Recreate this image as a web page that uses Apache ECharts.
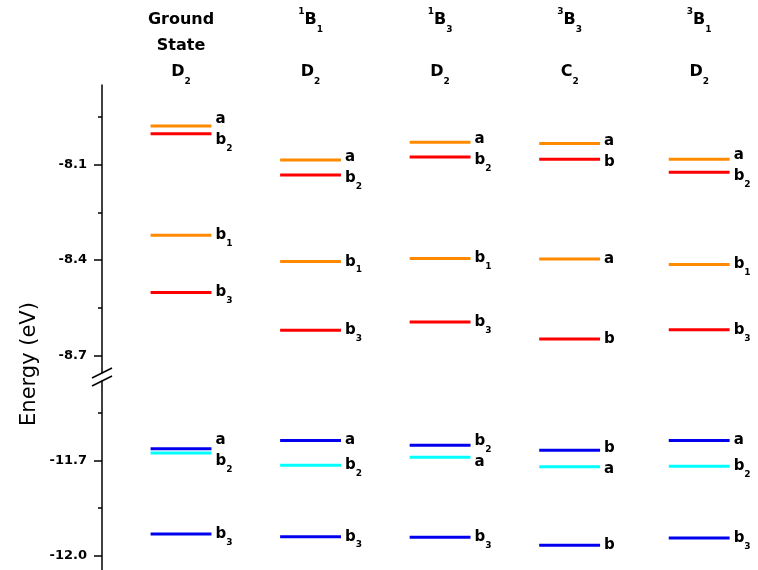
<!DOCTYPE html>
<html>
<head>
<meta charset="utf-8">
<script src="https://cdn.jsdelivr.net/npm/echarts@6/dist/echarts.min.js"></script>
<style>
  html, body { margin: 0; padding: 0; background: #fff; }
  #chart { width: 758px; height: 570px; }
</style>
</head>
<body>
<div id="chart"></div>
<script>
// electronic states (one column each)
const stateColumns = [1, 2, 3, 4, 5];
const stateHeaders = [
  'Ground\nState\n{big|D}{sub|2}',
  '{sup|1}{big|B}{sub|1}\n\n{big|D}{sub|2}',
  '{sup|1}{big|B}{sub|3}\n\n{big|D}{sub|2}',
  '{sup|3}{big|B}{sub|3}\n\n{big|C}{sub|2}',
  '{sup|3}{big|B}{sub|1}\n\n{big|D}{sub|2}'
];

// orbital energies in eV, same orbital order in every column
// (0..3 upper panel, 4..6 lower panel)
const groundEnergy = [-7.979, -8.003, -8.322, -8.502, -11.663, -11.677, -11.932];
const b1SingletEnergy = [-8.086, -8.133, -8.405, -8.621, -11.637, -11.715, -11.940];
const b3SingletEnergy = [-8.030, -8.076, -8.395, -8.595, -11.652, -11.690, -11.942];
const b3TripletEnergy = [-8.034, -8.083, -8.397, -8.648, -11.668, -11.720, -11.967];
const b1TripletEnergy = [-8.083, -8.124, -8.414, -8.619, -11.637, -11.718, -11.944];

// symmetry labels of each orbital
const groundSym = ['a', 'b2', 'b1', 'b3', 'a', 'b2', 'b3'];
const b1SingletSym = ['a', 'b2', 'b1', 'b3', 'a', 'b2', 'b3'];
const b3SingletSym = ['a', 'b2', 'b1', 'b3', 'b2', 'a', 'b3'];
const b3TripletSym = ['a', 'b', 'a', 'b', 'b', 'a', 'b'];
const b1TripletSym = ['a', 'b2', 'b1', 'b3', 'a', 'b2', 'b3'];

const upperTicks = [-8.1, -8.4, -8.7];
const upperMinorTicks = [-7.95, -8.25, -8.55];
const lowerTicks = [-11.7, -12.0];
const lowerMinorTicks = [-11.55, -11.85];

const upperOrbitals = [0, 1, 2, 3];
const lowerOrbitals = [4, 5, 6];

const energies = [groundEnergy, b1SingletEnergy, b3SingletEnergy, b3TripletEnergy, b1TripletEnergy];
const symLabels = [groundSym, b1SingletSym, b3SingletSym, b3TripletSym, b1TripletSym];

// look
const orbitalColors = ['#FF8A00', '#FF0000', '#FF8A00', '#FF0000', '#0000EE', '#00FFFF', '#0000EE'];
const FONT = '"DejaVu Sans", sans-serif';
const GRID_LEFT = 102;
const UPPER_TOP = 85, UPPER_BOTTOM = 373;
const LOWER_TOP = 381;
const HALF = 0.235;

function buildData(orbs) {
  const out = [];
  stateColumns.forEach((col, i) => {
    orbs.forEach(o => out.push([col, energies[i][o], o]));
  });
  return out;
}

function renderLevel(params, api) {
  const col = api.value(0), e = api.value(1), orb = api.value(2);
  const p0 = api.coord([col - HALF, e]);
  const p1 = api.coord([col + HALF, e]);
  // push labels of close levels apart
  let dy = 0;
  energies[col - 1].forEach((e2, j) => {
    if (j === orb) return;
    const y2 = api.coord([col, e2])[1];
    const gap = y2 - p0[1];
    if (Math.abs(gap) < 21) {
      const mid = (p0[1] + y2) / 2;
      dy = mid + (gap > 0 ? -10.5 : 10.5) - p0[1];
    }
  });
  const txt = symLabels[col - 1][orb].replace(/(\d)/, '{sub|$1}');
  return {
    type: 'group',
    children: [
      {
        type: 'line',
        shape: { x1: p0[0], y1: p0[1], x2: p1[0], y2: p1[1] },
        style: { stroke: orbitalColors[orb], lineWidth: 3 }
      },
      {
        type: 'text',
        x: p1[0] + 4,
        y: p0[1] + dy,
        style: {
          text: txt,
          fontSize: 15, fontWeight: 'bold', fontFamily: FONT, fill: '#000',
          align: 'left', verticalAlign: 'middle',
          rich: {
            sub: { fontSize: 9, fontWeight: 'bold', fontFamily: FONT, fill: '#000', padding: [17, 0, 0, 0] }
          }
        }
      }
    ]
  };
}

const chart = echarts.init(document.getElementById('chart'));

const yCommon = {
  type: 'value',
  position: 'left',
  splitLine: { show: false },
  axisLine: { show: true, lineStyle: { color: '#000', width: 1.5 } },
  axisTick: { show: true, inside: false, length: 8, lineStyle: { color: '#000', width: 1.5 } },
  axisLabel: {
    color: '#000', fontSize: 13, fontWeight: 'bold', fontFamily: FONT, margin: 15,
    formatter: v => v.toFixed(1)
  }
};
const yMinor = {
  type: 'value',
  position: 'left',
  splitLine: { show: false },
  axisLine: { show: false },
  axisLabel: { show: false },
  axisTick: { show: true, inside: false, length: 4, lineStyle: { color: '#000', width: 1.5 } }
};

const headerRich = {
  big: { fontSize: 16, fontWeight: 'bold', fontFamily: FONT, color: '#000', lineHeight: 26 },
  sup: { fontSize: 9, fontWeight: 'bold', fontFamily: FONT, color: '#000', lineHeight: 26, padding: [0, 0, 16, 0] },
  sub: { fontSize: 9, fontWeight: 'bold', fontFamily: FONT, color: '#000', lineHeight: 26, padding: [19, 0, 0, 0] }
};

const option = {
  animation: false,
  backgroundColor: '#fff',
  grid: [
    { left: GRID_LEFT, right: 7, top: UPPER_TOP, height: UPPER_BOTTOM - UPPER_TOP },
    { left: GRID_LEFT, right: 7, top: LOWER_TOP, bottom: 0 }
  ],
  xAxis: [
    {
      type: 'value', gridIndex: 0, min: 0.39, max: 5.4, position: 'top',
      splitLine: { show: false }, axisLine: { show: false }, axisTick: { show: false },
      axisLabel: {
        customValues: stateColumns,
        formatter: v => stateHeaders[Math.round(v) - 1],
        margin: 0,
        fontSize: 16, fontWeight: 'bold', fontFamily: FONT, color: '#000', lineHeight: 26,
        rich: headerRich
      }
    },
    {
      type: 'value', gridIndex: 1, min: 0.39, max: 5.4, show: false
    }
  ],
  yAxis: [
    Object.assign({}, yCommon, {
      gridIndex: 0, min: -8.755, max: -7.85,
      axisTick: Object.assign({}, yCommon.axisTick, { customValues: upperTicks }),
      axisLabel: Object.assign({}, yCommon.axisLabel, { customValues: upperTicks })
    }),
    Object.assign({}, yMinor, {
      gridIndex: 0, min: -8.755, max: -7.85,
      axisTick: Object.assign({}, yMinor.axisTick, { customValues: upperMinorTicks })
    }),
    Object.assign({}, yCommon, {
      gridIndex: 1, min: -12.045, max: -11.45,
      axisTick: Object.assign({}, yCommon.axisTick, { customValues: lowerTicks }),
      axisLabel: Object.assign({}, yCommon.axisLabel, { customValues: lowerTicks })
    }),
    Object.assign({}, yMinor, {
      gridIndex: 1, min: -12.045, max: -11.45,
      axisTick: Object.assign({}, yMinor.axisTick, { customValues: lowerMinorTicks })
    })
  ],
  graphic: [
    {
      type: 'text', x: 30, y: 364, rotation: Math.PI / 2,
      style: { text: 'Energy (eV)', fontSize: 21, fontFamily: FONT, fill: '#000', align: 'center', verticalAlign: 'middle' }
    },
    {
      type: 'line',
      shape: { x1: GRID_LEFT - 10, y1: UPPER_BOTTOM + 5, x2: GRID_LEFT + 10, y2: UPPER_BOTTOM - 5 },
      style: { stroke: '#000', lineWidth: 1.5 }
    },
    {
      type: 'line',
      shape: { x1: GRID_LEFT - 10, y1: LOWER_TOP + 5, x2: GRID_LEFT + 10, y2: LOWER_TOP - 5 },
      style: { stroke: '#000', lineWidth: 1.5 }
    }
  ],
  series: [
    {
      type: 'custom', name: 'upper', xAxisIndex: 0, yAxisIndex: 0,
      data: buildData(upperOrbitals), renderItem: renderLevel, clip: false
    },
    {
      type: 'custom', name: 'lower', xAxisIndex: 1, yAxisIndex: 2,
      data: buildData(lowerOrbitals), renderItem: renderLevel, clip: false
    }
  ]
};

chart.setOption(option);
</script>
</body>
</html>
